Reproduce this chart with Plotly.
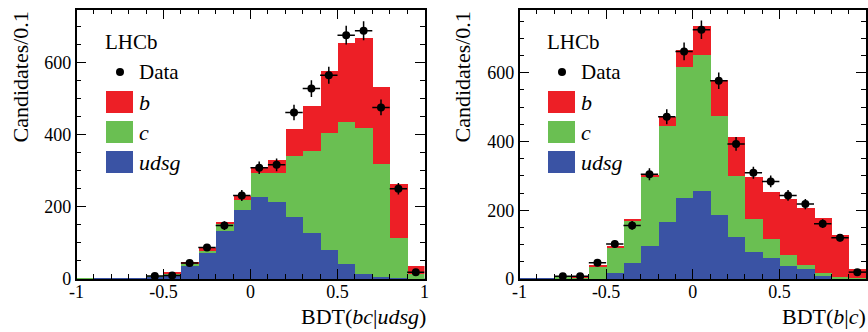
import numpy as np
import plotly.graph_objects as go

W, H = 868, 332

# Bin centres (BDT output, 20 bins of width 0.1)
bin_centers = [-0.95, -0.85, -0.75, -0.65, -0.55, -0.45, -0.35, -0.25, -0.15, -0.05,
               0.05, 0.15, 0.25, 0.35, 0.45, 0.55, 0.65, 0.75, 0.85, 0.95]
x_tickvals = [-1, -0.5, 0, 0.5, 1]
x_ticktext = ["-1", "-0.5", "0", "0.5", "1"]

# Left panel: BDT(bc|udsg)
left_udsg = [2, 2, 2, 2, 7, 13, 37, 73, 135, 193, 229, 215, 174, 128, 81, 44, 16, 8, 4, 2]
left_c = [1, 0, 0, 0, 1, 4, 6, 8, 19, 28, 65, 80, 169, 229, 325, 393, 403, 311, 110, 13]
left_b = [0, 0, 0, 0, 0, 3, 3, 5, 5, 10, 18, 36, 74, 123, 172, 219, 249, 214, 151, 21]
left_data = [None, None, None, None, 8, 10, 44, 87, 148, 231, 308, 316, 461, 527, 564, 675, 687, 475, 250, 19]

# Right panel: BDT(b|c)
right_udsg = [2, 2, 1, 1, 2, 19, 48, 97, 167, 236, 257, 189, 123, 81, 63, 39, 30, 9, 4, 2]
right_c = [0, 0, 5, 6, 36, 73, 122, 200, 280, 382, 396, 287, 177, 96, 54, 31, 12, 11, 2, 1]
right_b = [0, 0, 0, 3, 4, 4, 7, 7, 27, 51, 85, 104, 114, 121, 137, 163, 167, 160, 124, 28]
right_data = [None, None, 8, 8, 47, 102, 156, 305, 472, 662, 725, 577, 393, 309, 284, 243, 218, 161, 120, 20]

RED = "#ED1F26"
GREEN = "#6ABF52"
BLUE = "#3A53A4"
FONT = "Liberation Serif, Times New Roman, serif"

fig = go.Figure()

def add_panel(xa, ya, udsg, c, b, data):
    for vals, col in ((udsg, BLUE), (c, GREEN), (b, RED)):
        fig.add_trace(go.Bar(x=bin_centers, y=vals, width=0.1, marker=dict(color=col, line=dict(width=0)),
                             xaxis=xa, yaxis=ya, showlegend=False))
    xs = [x for x, d in zip(bin_centers, data) if d is not None]
    ys = [d for d in data if d is not None]
    fig.add_trace(go.Scatter(x=xs, y=ys, mode="markers", xaxis=xa, yaxis=ya, showlegend=False,
                             marker=dict(color="black", size=8),
                             error_x=dict(type="constant", value=0.05, color="black", thickness=1.5, width=0),
                             error_y=dict(type="data", array=list(np.sqrt(ys)), color="black", thickness=1.5, width=0)))

add_panel("x", "y", left_udsg, left_c, left_b, left_data)
add_panel("x2", "y2", right_udsg, right_c, right_b, right_data)

def px2x(p):
    return p / W

def px2y(p):
    return 1 - p / H

frame_top, frame_bot = 9.5, 279
left_x0, left_x1 = 76.5, 424.5
right_x0, right_x1 = 519.5, 866

TICKFONT = dict(family=FONT, size=18, color="black")
xaxis_common = dict(range=[-1, 1], tickmode="array", tickvals=x_tickvals, ticktext=x_ticktext,
                    ticks="inside", ticklen=10, tickwidth=1, tickcolor="black",
                    showline=True, linecolor="black", linewidth=1.5, mirror="allticks", showgrid=False, zeroline=False,
                    tickfont=TICKFONT, automargin=False, ticklabelstandoff=-4,
                    minor=dict(dtick=0.1, tick0=-1, ticks="inside", ticklen=5, tickcolor="black", tickwidth=1, showgrid=False))
yaxis_common = dict(dtick=200, ticks="inside", ticklen=10, tickwidth=1, tickcolor="black",
                    showline=True, linecolor="black", linewidth=1.5, mirror="allticks", showgrid=False, zeroline=False,
                    tickfont=TICKFONT, automargin=False,
                    minor=dict(dtick=50, ticks="inside", ticklen=5, tickcolor="black", tickwidth=1, showgrid=False))

fig.update_layout(
    width=W, height=H, margin=dict(l=0, r=0, t=0, b=0, autoexpand=False),
    paper_bgcolor="white", plot_bgcolor="white",
    barmode="stack", bargap=0,
    xaxis=dict(domain=[px2x(left_x0), px2x(left_x1)], anchor="y", **xaxis_common),
    yaxis=dict(domain=[px2y(frame_bot), px2y(frame_top)], anchor="x", range=[0, 746], **yaxis_common),
    xaxis2=dict(domain=[px2x(right_x0), px2x(right_x1)], anchor="y2", **xaxis_common),
    yaxis2=dict(domain=[px2y(frame_bot), px2y(frame_top)], anchor="x2", range=[0, 784], **yaxis_common),
)

annotations = []
shapes = []

def text(x, y, s, size, xanchor="left", yanchor="middle", angle=0):
    annotations.append(dict(x=px2x(x), y=px2y(y), xref="paper", yref="paper", text=s, showarrow=False,
                            xanchor=xanchor, yanchor=yanchor, textangle=angle,
                            font=dict(family=FONT, size=size, color="black")))

# Axis titles
text(20, 10, "Candidates/0.1", 22, xanchor="center", yanchor="top", angle=-90)
text(462, 10, "Candidates/0.1", 22, xanchor="center", yanchor="top", angle=-90)
text(428, 316, "BDT(<i>bc</i>|<i>udsg</i>)", 22, xanchor="right")
text(868, 316, "BDT(<i>b</i>|<i>c</i>)", 22, xanchor="right")

# Legends
for lx in (105, 547):
    text(lx - 2, 42, "LHCb", 21)
    shapes.append(dict(type="circle", xref="paper", yref="paper",
                       x0=px2x(lx + 15 - 4), x1=px2x(lx + 15 + 4), y0=px2y(72 + 4), y1=px2y(72 - 4),
                       fillcolor="black", line=dict(width=0)))
    text(lx + 32, 72, "Data", 21)
    for i, (col, lab) in enumerate(((RED, "<i>b</i>"), (GREEN, "<i>c</i>"), (BLUE, "<i>udsg</i>"))):
        yc = 102 + i * 30
        shapes.append(dict(type="rect", xref="paper", yref="paper",
                           x0=px2x(lx + 1), x1=px2x(lx + 28), y0=px2y(yc + 11), y1=px2y(yc - 11),
                           fillcolor=col, line=dict(width=0)))
        text(lx + 32, yc, lab, 22)

fig.update_layout(annotations=annotations, shapes=shapes)
fig.write_html("out.html")
